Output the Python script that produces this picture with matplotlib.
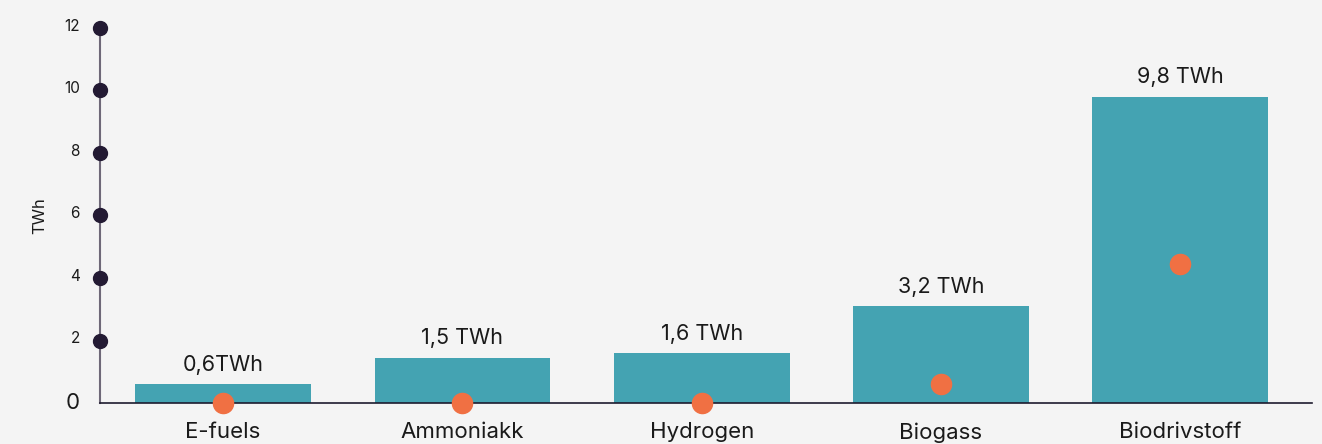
import matplotlib.pyplot as plt

plt.rcParams['font.family'] = ['Inter', 'DejaVu Sans']

# Data
categories = ['E-fuels', 'Ammoniakk', 'Hydrogen', 'Biogass', 'Biodrivstoff']
bar_values = [0.6, 1.45, 1.6, 3.1, 9.8]
bar_labels = ['0,6TWh', '1,5 TWh', '1,6 TWh', '3,2 TWh', '9,8 TWh']
dot_values = [0, 0, 0, 0.6, 4.45]
y_ticks = [2, 4, 6, 8, 10, 12]

bg = '#f4f4f4'
teal = '#44a3b2'
orange = '#f07043'
dark = '#231a33'

fig = plt.figure(figsize=(13.22, 4.44), dpi=100, facecolor=bg)
ax = fig.add_axes([0.0756, 0.0923, 0.9168, 0.8447])
ax.set_facecolor(bg)

x = list(range(len(categories)))
bars = ax.bar(x, bar_values, width=0.735, color=teal, zorder=2)
for xi, v, lab in zip(x, bar_values, bar_labels):
    ax.text(xi, v + 0.62, lab, ha='center', va='center', fontsize=15.5, color='#1a1a1a')

ax.plot(x, dot_values, 'o', color=orange, markersize=14.5, linestyle='none',
        zorder=4, clip_on=False)

# y axis with dots at ticks
ax.plot([0] * len(y_ticks), y_ticks, 'o', color=dark, markersize=10,
        transform=ax.get_yaxis_transform(), clip_on=False, zorder=5)
for t in y_ticks:
    ax.text(-0.0165, t + 0.05, str(t), transform=ax.get_yaxis_transform(),
            ha='right', va='center', fontsize=11, color='#1a1a1a')
ax.text(-0.0165, 0, '0', transform=ax.get_yaxis_transform(),
        ha='right', va='center', fontsize=16, color='#1a1a1a')

ax.set_xlim(-0.515, 4.55)
ax.set_ylim(0, 12)
ax.set_yticks([])
ax.set_xticks(x)
ax.set_xticklabels(categories, fontsize=16, color='#1a1a1a')
ax.tick_params(axis='x', length=0, pad=14)

for s in ['top', 'right']:
    ax.spines[s].set_visible(False)
ax.spines['left'].set_color('#6e6878')
ax.spines['left'].set_linewidth(1.5)
ax.spines['bottom'].set_color('#1e1b2e')
ax.spines['bottom'].set_linewidth(1.2)
ax.spines['left'].set_zorder(1)

ax.set_ylabel('TWh', fontsize=12, color='#1a1a1a', labelpad=38)

fig.savefig('out.png', dpi=100, facecolor=bg)
